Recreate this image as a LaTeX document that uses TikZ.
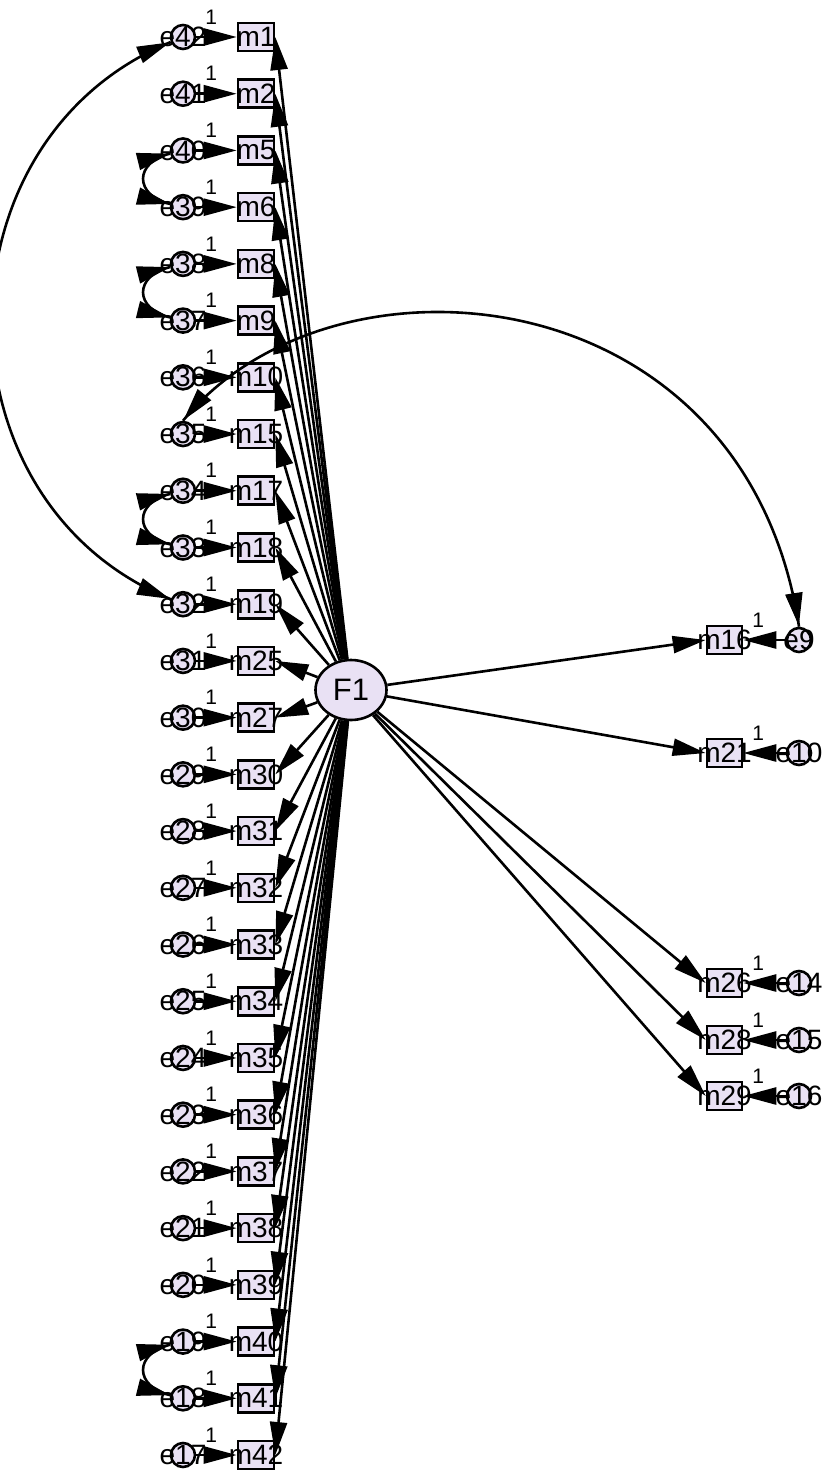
\documentclass[tikz,border=0pt]{standalone}
\usepackage{fontspec}
\setmainfont{Liberation Sans}
\usetikzlibrary{arrows.meta,shapes.geometric,calc,decorations.markings}
\definecolor{fillc}{RGB}{233,225,244}
\begin{document}
\begin{tikzpicture}[x=1pt,y=-1pt,line width=2.6pt,
  >={Triangle[length=33pt,width=17pt]},
  obs/.style={draw, fill=fillc, minimum width=36pt, minimum height=28pt, inner sep=0pt},
  err/.style={draw, fill=fillc, circle, minimum size=24pt, inner sep=0pt},
  lbl/.style={font=\fontsize{28}{28}\selectfont, inner sep=0pt},
  one/.style={font=\fontsize{21}{21}\selectfont, inner sep=0pt},
  lat/.style={draw, fill=fillc, ellipse, minimum width=71pt, minimum height=60pt, inner sep=0pt, font=\fontsize{31}{31}\selectfont},
  cov/.style={postaction={decorate}, decoration={markings,
     mark=at position 0.001 with {\arrowreversed{>}},
     mark=at position 0.999 with {\arrow{>}}}}]
\useasboundingbox (0,0) rectangle (822,1478);
% left column
\foreach \m/\e [count=\i from 0] in {1/42,2/41,5/40,6/39,8/38,9/37,10/36,15/35,17/34,18/33,19/32,25/31,27/30,30/29,31/28,32/27,33/26,34/25,35/24,36/23,37/22,38/21,39/20,40/19,41/18,42/17} {
  \pgfmathsetmacro\yy{37+56.72*\i}
  \node[obs] (m\m) at (256,\yy) {};
  \node[lbl] (tm\m) at (m\m) {m\m};
  \node[err] (e\e) at (183,\yy) {};
  \node[lbl] (te\e) at (e\e) {e\e};
}
% right column
\foreach \m/\e/\yy in {16/9/640,21/10/753,26/14/983,28/15/1040,29/16/1096} {
  \node[obs, minimum width=35pt] (m\m) at (724.5,\yy) {};
  \node[lbl] (tm\m) at (m\m) {m\m};
  \node[err] (e\e) at (799,\yy) {};
  \node[lbl] (te\e) at (e\e) {e\e};
}
\node[lat] (F1) at (351,690) {F1};
% paths left
\foreach \m/\e in {1/42,2/41,5/40,6/39,8/38,9/37,10/36,15/35,17/34,18/33,19/32,25/31,27/30,30/29,31/28,32/27,33/26,34/25,35/24,36/23,37/22,38/21,39/20,40/19,41/18,42/17} {
  \draw[->] (e\e) -- (m\m);
  \path (e\e.east) ++(15,-20) node[one] (one\e) {1};
  \draw[->] (F1) -- (m\m.east);
}
% paths right
\foreach \m/\e in {16/9,21/10,26/14,28/15,29/16} {
  \draw[->] (e\e) -- (m\m);
  \path (m\m.east) ++(15,-20) node[one] (one\e) {1};
  \draw[->] (F1) -- (m\m.west);
}
% covariances
\draw[cov] (e42) .. controls (-68,140) and (-68,502) .. (e32);
\foreach \a/\b in {40/39,38/37,34/33,19/18} {
  \draw[cov] (e\a) .. controls ($(e\a)+(-49,12)$) and ($(e\b)+(-49,-12)$) .. (e\b);
}
\draw[cov] (e35.north) .. controls (332,238) and (745,272) .. (e9.north);
\end{tikzpicture}
\end{document}
